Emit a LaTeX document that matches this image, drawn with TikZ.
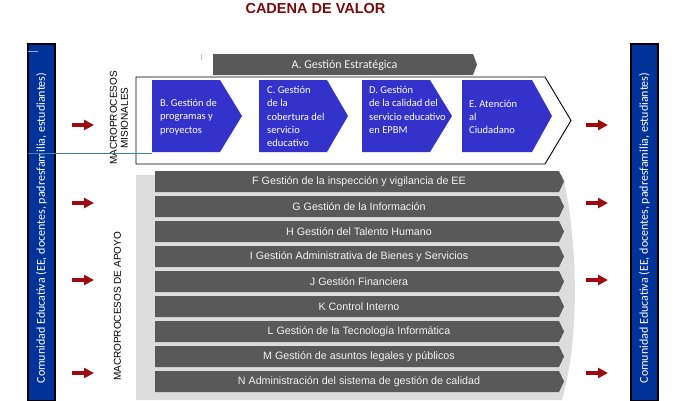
\documentclass[tikz,border=0pt]{standalone}
\usepackage{fontspec}
\setmainfont{Liberation Sans}
\newfontfamily\calib{Carlito}
\usetikzlibrary{arrows.meta}
\definecolor{colblue}{HTML}{003399}
\definecolor{chevblue}{HTML}{3333CC}
\definecolor{bargray}{HTML}{595959}
\definecolor{panelgray}{HTML}{DDDDDD}
\definecolor{arrowred}{HTML}{9E0B0F}
\definecolor{titlered}{HTML}{7B0A0A}
\definecolor{linkblue}{HTML}{3F7FBF}
\definecolor{bartxt}{HTML}{F2F2F2}
\newcommand\mychev[3]{\fill[chevblue] (#1,80) -- (#2,80) -- (#3,116) -- (#2,152) -- (#1,152) -- cycle;}
\begin{document}
\begin{tikzpicture}[x=1pt,y=-1pt,
  colbox/.style={fill=colblue,draw=black,line width=1.2pt},
  coltext/.style={rotate=90,text=white,font=\calib\fontsize{12}{14}\selectfont,inner sep=0pt},
  redarr/.style={arrowred,line width=4pt,-{Triangle[length=10pt,width=10pt]}},
  chevtext/.style={text=white,align=left,anchor=west,inner sep=0pt,font=\calib\fontsize{10.5}{13.3}\selectfont},
  bartext/.style={text=bartxt,inner sep=0pt,font=\fontsize{10.7}{12}\selectfont},
  sidelabel/.style={rotate=90,align=center,inner sep=0pt,font=\fontsize{10}{11}\selectfont}]
\useasboundingbox (0,0) rectangle (679,400);
% title
\node[font=\bfseries\fontsize{14.5}{16}\selectfont,text=titlered,inner sep=0pt] (title) at (315.5,9) {CADENA DE VALOR};
% side columns
\draw[colbox] (28,44) rectangle (55,401);
\draw[colbox] (631,44) rectangle (658,401);
\node[coltext] (lcoltext) at (41.5,228) {Comunidad Educativa (EE, docentes, padresfamilia, estudiantes)};
\node[coltext] (rcoltext) at (644.5,228) {Comunidad Educativa (EE, docentes, padresfamilia, estudiantes)};
\draw[color=linkblue!60,line width=0.8pt] (28,51) -- (38,51);
% side labels
\node[sidelabel] (mis) at (119,118) {MACROPROCESOS\\MISIONALES};
\node[sidelabel] (apo) at (117.5,306.5) {MACROPROCESOS DE APOYO};
% support panel
\fill[panelgray] (136,175) -- (563,175) .. controls (579,250) and (579,340) .. (562,400) -- (136,400) -- cycle;
% strategic banner
\draw[gray!50,line width=0.6pt] (201,54) -- (201,60);
\fill[bargray] (213,54) -- (473,54) -- (477,64.5) -- (473,75) -- (213,75) -- cycle;
\node[text=bartxt,inner sep=0pt,font=\calib\fontsize{12}{14}\selectfont] (A) at (344.5,65) {A. Gestión Estratégica};
% misional outline
\draw[black,line width=0.9pt] (136,77) -- (545,77) -- (571,120.5) -- (545,164) -- (136,164) -- cycle;
% chevrons
\mychev{152}{220}{242}
\mychev{259}{327}{348}
\mychev{362}{430}{452}
\mychev{462}{532}{552}
\node[chevtext] (B) at (160,117) {B. Gestión de\\programas y\\proyectos};
\node[chevtext] (C) at (267,116.5) {C. Gestión\\de la\\cobertura del\\servicio\\educativo};
\node[chevtext] (D) at (369,110) {D. Gestión\\de la calidad del\\servicio educativo\\en EPBM};
\node[chevtext] (E) at (469,117) {E. Atención\\al\\Ciudadano};
\draw[linkblue,line width=0.8pt] (28,153) -- (152,153);
% support bars
\foreach \txt [count=\i from 0] in {F Gestión de la inspección y vigilancia de EE,
  G Gestión de la Información,
  H Gestión del Talento Humano,
  I Gestión Administrativa de Bienes y Servicios,
  J Gestión Financiera,
  K Control Interno,
  L Gestión de la Tecnología Informática,
  M Gestión de asuntos legales y públicos,
  N Administración del sistema de gestión de calidad}{
  \pgfmathsetmacro\yt{171+25*\i}
  \fill[bargray] (155,\yt) -- (559,\yt) -- (564,{\yt+10.5}) -- (559,{\yt+21}) -- (155,{\yt+21}) -- cycle;
  \node[bartext] (bar\i) at (359,{\yt+10.5}) {\txt};
}
% arrows
\foreach \y [count=\k] in {125,203,280,373}{
  \coordinate (ls\k) at (72,\y); \coordinate (le\k) at (94,\y);
  \coordinate (rs\k) at (586,\y); \coordinate (re\k) at (608,\y);
  \draw[redarr] (ls\k) -- (le\k);
  \draw[redarr] (rs\k) -- (re\k);
}
\end{tikzpicture}
\end{document}
